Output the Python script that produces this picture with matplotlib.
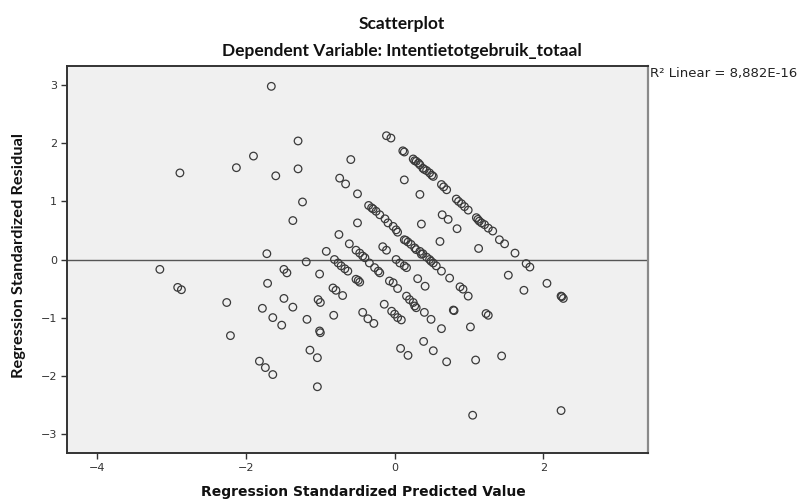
import numpy as np
import matplotlib.pyplot as plt

# standardized predicted value (x) and standardized residual (y)
pred = [
    -1.66, -2.89, -2.13, -1.90, -1.60, -1.30, -1.30, -1.37, -1.24, -1.72,
    -3.16, -1.49, -1.45, -2.92, -2.87, -2.26, -2.21, -1.71, -1.78, -1.64,
    -1.52, -1.49, -1.37, -1.82, -1.74, -1.64, -1.19, -1.01, -0.92, -1.03,
    -1.00, -1.18, -1.01, -1.00, -0.82, -1.14, -1.04, -1.04,
    -0.59, -0.11, -0.05, 0.13, 0.34, 0.36, 0.64, 0.72, 0.84, 0.61,
    1.13, 1.53, 1.74, 2.05, -0.50, -0.50, -0.75, -0.16, -0.11,
    # upper diagonal band
    0.11, 0.13, 0.25, 0.27, 0.29, 0.32, 0.34, 0.38, 0.40, 0.43,
    0.47, 0.50, 0.52, 0.63, 0.66, 0.70, 0.83, 0.86, 0.90, 0.94,
    0.99, 1.10, 1.12, 1.14, 1.17, 1.21, 1.26, 1.32, 1.41, 1.48,
    1.62, 1.77, 1.82, 2.24, 2.27, 2.25,
    # second band
    -0.74, -0.66, -0.35, -0.31, -0.29, -0.25, -0.20, -0.13, -0.09, -0.02,
    0.02, 0.04, 0.13, 0.15, 0.18, 0.22, 0.27, 0.29, 0.34, 0.36,
    0.38, 0.43, 0.47, 0.49, 0.52, 0.56, 0.63, 0.74, 0.88, 0.92,
    0.99, 1.23, 1.26,
    # third band
    -0.61, -0.52, -0.47, -0.43, -0.40, -0.34, -0.27, -0.22, -0.20, -0.07,
    -0.02, 0.04, 0.16, 0.20, 0.25, 0.27, 0.29, 0.40, 0.49, 0.63,
    0.02, 0.07, 0.13, 0.16, 0.31, 0.41, 0.79, 0.80, 1.02,
    # fourth band
    -0.81, -0.76, -0.72, -0.67, -0.63, -0.52, -0.49, -0.47, -0.14, -0.04,
    0.00, 0.04, 0.09, 0.39, 0.52, 0.70,
    # fifth band
    -0.83, -0.79, -0.70, -0.43, -0.36, -0.28, 0.08, 0.18,
    1.09, 1.44, 1.05, 2.24,
]
resid = [
    2.98, 1.49, 1.58, 1.78, 1.44, 2.04, 1.56, 0.67, 0.99, 0.10,
    -0.17, -0.17, -0.23, -0.48, -0.52, -0.74, -1.31, -0.41, -0.84, -1.00,
    -1.13, -0.67, -0.82, -1.75, -1.86, -1.98, -0.04, -0.25, 0.14, -0.69,
    -0.74, -1.03, -1.23, -1.26, -0.96, -1.56, -1.69, -2.19,
    1.72, 2.13, 2.09, 1.37, 1.12, 0.61, 0.77, 0.69, 0.53, 0.31,
    0.19, -0.27, -0.53, -0.41, 1.13, 0.63, 0.43, 0.22, 0.16,
    1.87, 1.85, 1.73, 1.70, 1.69, 1.66, 1.63, 1.57, 1.55, 1.53,
    1.49, 1.45, 1.43, 1.29, 1.25, 1.20, 1.04, 1.00, 0.96, 0.91,
    0.85, 0.72, 0.69, 0.66, 0.63, 0.60, 0.54, 0.49, 0.34, 0.27,
    0.11, -0.07, -0.13, -0.63, -0.67, -0.64,
    1.40, 1.30, 0.93, 0.89, 0.87, 0.83, 0.77, 0.70, 0.63, 0.57,
    0.51, 0.47, 0.34, 0.33, 0.30, 0.26, 0.20, 0.17, 0.14, 0.09,
    0.10, 0.04, 0.00, -0.03, -0.06, -0.11, -0.20, -0.32, -0.47, -0.51,
    -0.63, -0.93, -0.96,
    0.27, 0.16, 0.11, 0.06, 0.03, -0.06, -0.14, -0.20, -0.23, -0.37,
    -0.40, -0.50, -0.63, -0.69, -0.74, -0.80, -0.83, -0.91, -1.03, -1.19,
    0.00, -0.06, -0.11, -0.14, -0.33, -0.46, -0.87, -0.88, -1.16,
    0.00, -0.06, -0.11, -0.16, -0.20, -0.34, -0.36, -0.39, -0.77, -0.89,
    -0.94, -1.00, -1.04, -1.41, -1.57, -1.76,
    -0.49, -0.53, -0.62, -0.91, -1.02, -1.10, -1.53, -1.65,
    -1.73, -1.66, -2.68, -2.60,
]
xticks = [-4, -2, 0, 2]
yticks = [-3, -2, -1, 0, 1, 2, 3]

fig = plt.figure(figsize=(8.1, 5.0), dpi=100)
ax = fig.add_axes([0.0827, 0.094, 0.7173, 0.774])
ax.set_facecolor('#f0f0f0')

ax.axhline(0, color='#555555', lw=1.0, zorder=1)
ax.scatter(pred, resid, s=30, facecolors='none', edgecolors='#3a3a3a',
           linewidths=0.9, zorder=2)

ax.set_xlim(-4.41, 3.41)
ax.set_ylim(-3.33, 3.33)
ax.set_xticks(xticks)
ax.set_yticks(yticks)
ax.set_xticklabels(['\u22124', '\u22122', '0', '2'])
ax.set_yticklabels(['\u22123', '\u22122', '\u22121', '0', '1', '2', '3'])
ax.tick_params(direction='out', length=4, width=1, labelsize=8,
               colors='#333333', pad=3)

for side in ['left', 'bottom', 'top']:
    ax.spines[side].set_color('#333333')
    ax.spines[side].set_linewidth(1.4)
ax.spines['right'].set_color('#8a8a8a')
ax.spines['right'].set_linewidth(1.6)

fig.text(0.496, 0.953, 'Scatterplot', ha='center', va='center',
         fontsize=12.5, fontweight='bold', family='Lato', color='#111111')
fig.text(0.496, 0.898, 'Dependent Variable: Intentietotgebruik_totaal',
         ha='center', va='center', fontsize=12.5, fontweight='bold',
         family='Lato', color='#111111')
fig.text(0.024, 0.488, 'Regression Standardized Residual', rotation=90,
         ha='center', va='center', fontsize=11.8, fontweight='bold',
         family='Lato', color='#111111')
fig.text(0.449, 0.016, 'Regression Standardized Predicted Value',
         ha='center', va='center', fontsize=10, fontweight='bold',
         color='#111111')
fig.text(0.8025, 0.854, 'R\u00b2 Linear = 8,882E-16', ha='left', va='center',
         fontsize=9.5, color='#222222')

plt.savefig('out.png', dpi=100)
